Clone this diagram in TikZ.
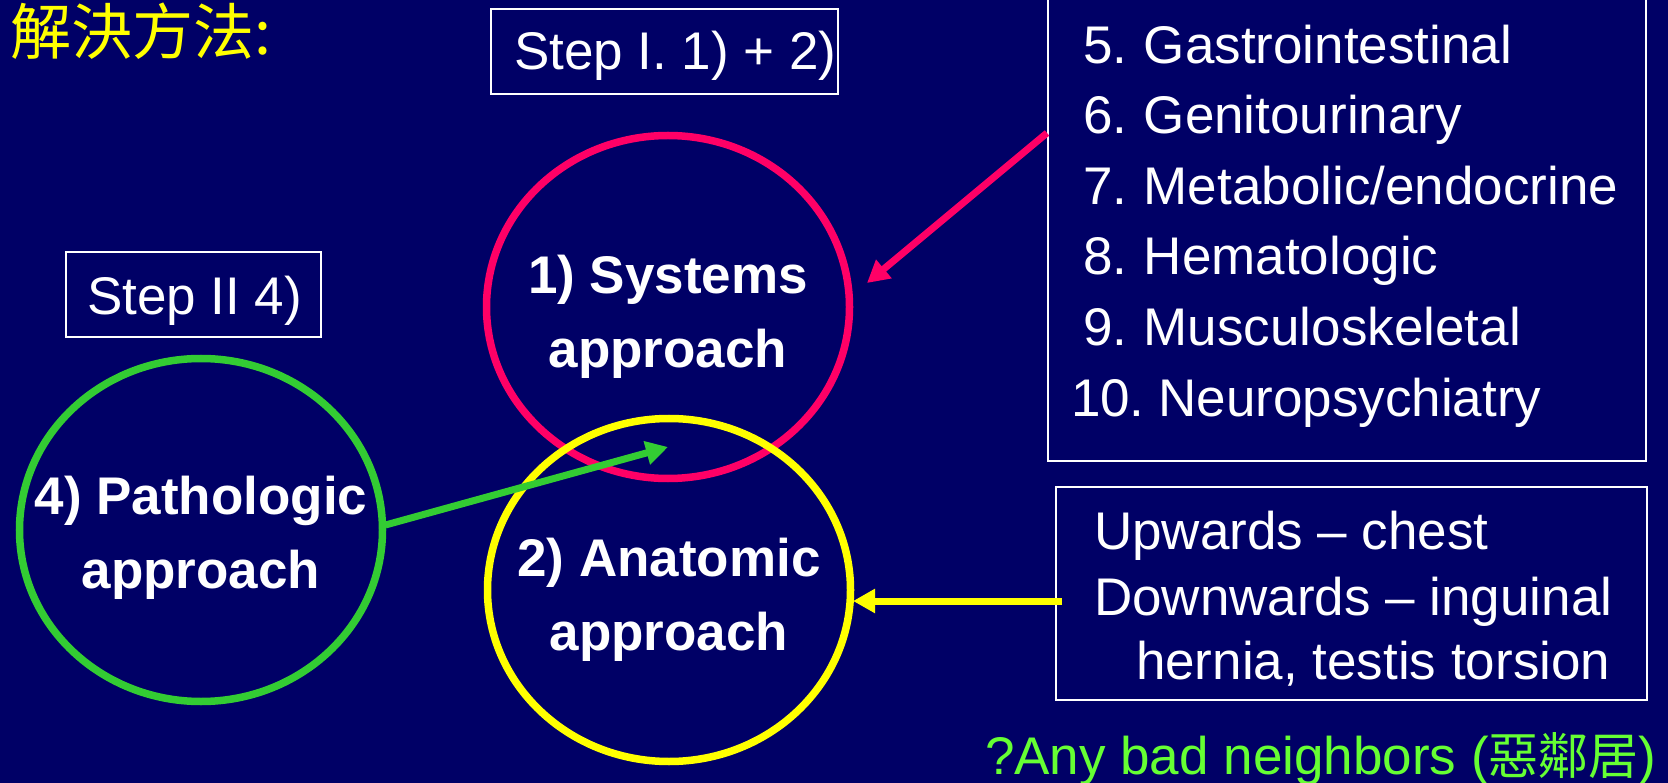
\documentclass[tikz,border=0pt]{standalone}
\usepackage{fontspec}
\setmainfont{Liberation Sans}
\newfontfamily\cjk{Noto Sans CJK TC}
\usetikzlibrary{shapes.geometric,arrows.meta}
\definecolor{navy}{RGB}{0,0,102}
\definecolor{sysred}{RGB}{255,0,102}
\definecolor{anayellow}{RGB}{255,255,0}
\definecolor{patgreen}{RGB}{51,204,51}
\definecolor{notegreen}{RGB}{102,255,51}

\begin{document}
\begin{tikzpicture}[x=1pt,y=-1pt,
  every node/.style={inner sep=0pt, outer sep=0pt},
  txt/.style={text=white, font=\fontsize{53}{60}\selectfont, anchor=base west},
  frame/.style={draw=white, line width=1.8pt, rectangle},
  approach/.style={ellipse, line width=7.5pt, minimum width=363pt, minimum height=343pt},
  approachtxt/.style={text=white, align=center, font=\fontsize{53}{74}\bfseries\selectfont},
  arr/.style={line width=7pt, -{Triangle[length=22pt,width=23pt]}}
]
% background
\fill[navy] (0,0) rectangle (1668,783);
\useasboundingbox (0,0) rectangle (1668,783);

% title
\node[anchor=west, text=anayellow, font=\cjk\fontsize{61}{64}\selectfont] (title) at (10,31) {解決方法:};

% frames
\node[frame, minimum width=347pt, minimum height=85pt] (step1box) at (664.5,51.5) {};
\node[frame, minimum width=255pt, minimum height=85pt] (step2box) at (193.5,294.5) {};
\node[frame, minimum width=598pt, minimum height=471pt] (listbox) at (1347,225.5) {};
\node[frame, minimum width=591pt, minimum height=213pt] (lowbox) at (1351.5,593.5) {};

% frame labels
\node[txt] (step1) at (514,70) {Step I. 1) + 2)};
\node[txt] (step2) at (87,315) {Step II 4)};

% list of systems
\node[txt] (l5) at (1083,64) {5.\hspace{-3pt} Gastrointestinal};
\node[txt] (l6) at (1083,134) {6.\hspace{-3pt} Genitourinary};
\node[txt] (l7) at (1083,205) {7.\hspace{-3pt} Metabolic/endocrine};
\node[txt] (l8) at (1083,275) {8.\hspace{-3pt} Hematologic};
\node[txt] (l9) at (1083,346) {9.\hspace{-3pt} Musculoskeletal};
\node[txt] (l10) at (1071,417) {10.\hspace{-6pt} Neuropsychiatry};

% anatomic directions
\node[txt] (up) at (1094,549) {Upwards – chest};
\node[txt] (down) at (1094,615) {Downwards – inguinal};
\node[txt] (hern) at (1136,679) {hernia, testis torsion};

% approaches
\node[approach, draw=sysred] (sys) at (668,307) {};
\node[approach, draw=anayellow] (anat) at (669,590) {};
\node[approach, draw=patgreen] (path) at (201,530) {};
\node[approachtxt] (systxt) at ([yshift=-10pt]sys.center) {1) Systems\\approach};
\node[approachtxt] (anattxt) at ([yshift=-10pt]anat.center) {2) Anatomic\\approach};
\node[approachtxt] (pathtxt) at ([yshift=-8pt]path.center) {4) Pathologic\\approach};

% connectors
\coordinate (redtail) at (1047,133);
\coordinate (redtip) at (867,283);
\coordinate (greentip) at (668,447);
\coordinate (yellowtip) at (853,601);
\draw[arr, draw=sysred, fill=sysred] (redtail) -- (redtip);
\draw[arr, draw=patgreen, fill=patgreen] ([xshift=3pt,yshift=5pt]path.east) -- (greentip);
\draw[arr, draw=anayellow, fill=anayellow] ([xshift=6pt]lowbox.west |- yellowtip) -- (yellowtip);

% note
\node[txt, text=notegreen] (note) at (985,774) {?Any bad neighbors ({\cjk\fontsize{50}{60}\selectfont 惡鄰居})};
\end{tikzpicture}
\end{document}
